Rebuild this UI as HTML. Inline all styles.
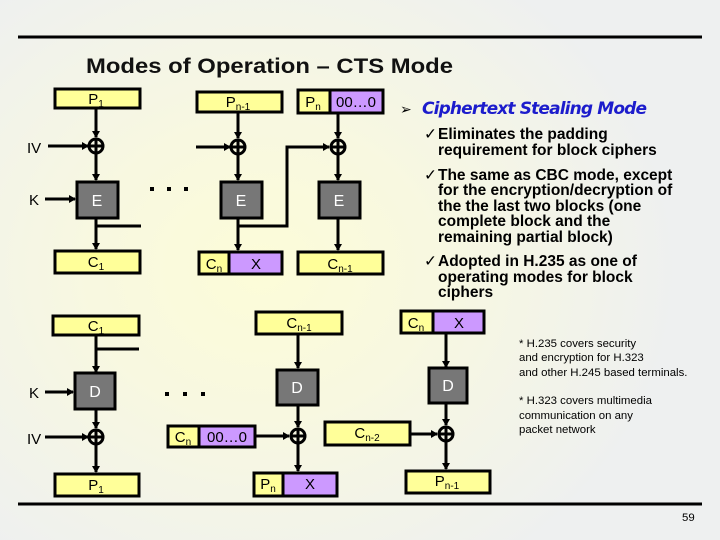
<!DOCTYPE html>
<html><head><meta charset="utf-8"><style>
html,body{margin:0;padding:0;}
body{width:720px;height:540px;overflow:hidden;background:radial-gradient(ellipse 420px 360px at 260px 270px,#fcfcd8 0%,#f8f8e0 40%,#eef0f0 100%);}
svg{display:block}
text{font-family:"Liberation Sans",Arial,sans-serif;}
</style></head><body>
<svg width="720" height="540" viewBox="0 0 720 540" xmlns="http://www.w3.org/2000/svg">
<defs>
<marker id="a" markerWidth="8" markerHeight="8" refX="6" refY="4" orient="auto" markerUnits="userSpaceOnUse"><path d="M0,0 L7,4 L0,8 z" fill="#000"/></marker>
</defs>
<line x1="18" y1="37" x2="702" y2="37" stroke="#000" stroke-width="3"/>
<line x1="18" y1="504" x2="702" y2="504" stroke="#000" stroke-width="3"/>
<text x="86" y="73" font-size="21" font-weight="bold" fill="#111" textLength="367" lengthAdjust="spacingAndGlyphs">Modes of Operation – CTS Mode</text>

<g stroke="#000" stroke-width="3" fill="none">
<line x1="96" y1="107" x2="96" y2="137" marker-end="url(#a)"/>
<line x1="96" y1="154" x2="96" y2="180" marker-end="url(#a)"/>
<line x1="48" y1="146" x2="88" y2="146" marker-end="url(#a)"/>
<line x1="45" y1="199" x2="75" y2="199" marker-end="url(#a)"/>
<line x1="96" y1="218" x2="96" y2="249" marker-end="url(#a)"/>
<line x1="96" y1="226" x2="141" y2="226"/>
<line x1="238" y1="112" x2="238" y2="138" marker-end="url(#a)"/>
<line x1="196" y1="147" x2="230" y2="147" marker-end="url(#a)"/>
<line x1="238" y1="155" x2="238" y2="180" marker-end="url(#a)"/>
<line x1="238" y1="218" x2="238" y2="250" marker-end="url(#a)"/>
<polyline points="238,226 287,226 287,147 329,147" marker-end="url(#a)"/>
<line x1="338" y1="113" x2="338" y2="138" marker-end="url(#a)"/>
<line x1="338" y1="155" x2="338" y2="180" marker-end="url(#a)"/>
<line x1="338" y1="218" x2="338" y2="250" marker-end="url(#a)"/>
<line x1="96" y1="335" x2="96" y2="372" marker-end="url(#a)"/>
<line x1="96" y1="349" x2="139" y2="349"/>
<line x1="45" y1="392" x2="73" y2="392" marker-end="url(#a)"/>
<line x1="96" y1="409" x2="96" y2="428" marker-end="url(#a)"/>
<line x1="45" y1="437" x2="88" y2="437" marker-end="url(#a)"/>
<line x1="96" y1="445" x2="96" y2="472" marker-end="url(#a)"/>
<line x1="298" y1="334" x2="298" y2="368" marker-end="url(#a)"/>
<line x1="298" y1="405" x2="298" y2="427" marker-end="url(#a)"/>
<line x1="255" y1="436" x2="289" y2="436" marker-end="url(#a)"/>
<line x1="298" y1="444" x2="298" y2="471" marker-end="url(#a)"/>
<line x1="446" y1="333" x2="446" y2="367" marker-end="url(#a)"/>
<line x1="446" y1="403" x2="446" y2="425" marker-end="url(#a)"/>
<line x1="410" y1="434" x2="437" y2="434" marker-end="url(#a)"/>
<line x1="446" y1="442" x2="446" y2="469" marker-end="url(#a)"/>
<circle cx="96" cy="146" r="7"/><line x1="89" y1="146" x2="103" y2="146"/><line x1="96" y1="139" x2="96" y2="153"/>
<circle cx="238" cy="147" r="7"/><line x1="231" y1="147" x2="245" y2="147"/><line x1="238" y1="140" x2="238" y2="154"/>
<circle cx="338" cy="147" r="7"/><line x1="331" y1="147" x2="345" y2="147"/><line x1="338" y1="140" x2="338" y2="154"/>
<circle cx="96" cy="437" r="7"/><line x1="89" y1="437" x2="103" y2="437"/><line x1="96" y1="430" x2="96" y2="444"/>
<circle cx="298" cy="436" r="7"/><line x1="291" y1="436" x2="305" y2="436"/><line x1="298" y1="429" x2="298" y2="443"/>
<circle cx="446" cy="434" r="7"/><line x1="439" y1="434" x2="453" y2="434"/><line x1="446" y1="427" x2="446" y2="441"/>
</g>

<g stroke="#000" stroke-width="3">
<rect x="55" y="89" width="85" height="19" fill="#ffff99"/>
<rect x="197" y="92" width="85" height="20" fill="#ffff99"/>
<rect x="298" y="90" width="32" height="23" fill="#ffff99"/>
<rect x="330" y="90" width="53" height="23" fill="#cc99ff"/>
<rect x="55" y="251" width="85" height="22" fill="#ffff99"/>
<rect x="199" y="252" width="30" height="22" fill="#ffff99"/>
<rect x="229" y="252" width="53" height="22" fill="#cc99ff"/>
<rect x="298" y="252" width="85" height="22" fill="#ffff99"/>
<rect x="77" y="182" width="41" height="36" fill="#777"/>
<rect x="221" y="182" width="41" height="36" fill="#777"/>
<rect x="319" y="182" width="41" height="36" fill="#777"/>
<rect x="53" y="316" width="86" height="19" fill="#ffff99"/>
<rect x="75" y="373" width="40" height="36" fill="#777"/>
<rect x="55" y="474" width="84" height="22" fill="#ffff99"/>
<rect x="256" y="312" width="86" height="22" fill="#ffff99"/>
<rect x="277" y="370" width="41" height="35" fill="#777"/>
<rect x="168" y="426" width="31" height="21" fill="#ffff99"/>
<rect x="199" y="426" width="56" height="21" fill="#cc99ff"/>
<rect x="254" y="473" width="29" height="23" fill="#ffff99"/>
<rect x="283" y="473" width="54" height="23" fill="#cc99ff"/>
<rect x="401" y="311" width="32" height="22" fill="#ffff99"/>
<rect x="433" y="311" width="51" height="22" fill="#cc99ff"/>
<rect x="429" y="368" width="38" height="35" fill="#777"/>
<rect x="325" y="422" width="85" height="23" fill="#ffff99"/>
<rect x="406" y="471" width="84" height="22" fill="#ffff99"/>
</g>

<g font-size="15" fill="#000" text-anchor="middle">
<text x="96" y="104">P<tspan font-size="10" dy="3">1</tspan></text>
<text x="238" y="107">P<tspan font-size="10" dy="3">n-1</tspan></text>
<text x="313" y="107">P<tspan font-size="10" dy="3">n</tspan></text>
<text x="356" y="107">00…0</text>
<text x="96" y="267">C<tspan font-size="10" dy="3">1</tspan></text>
<text x="214" y="269">C<tspan font-size="10" dy="3">n</tspan></text>
<text x="256" y="269">X</text>
<text x="340" y="269">C<tspan font-size="10" dy="3">n-1</tspan></text>
<text x="96" y="331">C<tspan font-size="10" dy="3">1</tspan></text>
<text x="299" y="328">C<tspan font-size="10" dy="3">n-1</tspan></text>
<text x="416" y="328">C<tspan font-size="10" dy="3">n</tspan></text>
<text x="459" y="328">X</text>
<text x="183" y="442">C<tspan font-size="10" dy="3">n</tspan></text>
<text x="227" y="442">00…0</text>
<text x="367" y="438">C<tspan font-size="10" dy="3">n-2</tspan></text>
<text x="96" y="490">P<tspan font-size="10" dy="3">1</tspan></text>
<text x="268" y="489">P<tspan font-size="10" dy="3">n</tspan></text>
<text x="310" y="489">X</text>
<text x="447" y="486">P<tspan font-size="10" dy="3">n-1</tspan></text>
</g>
<g font-size="16" fill="#fff" text-anchor="middle">
<text x="97" y="206">E</text><text x="241" y="206">E</text><text x="339" y="206">E</text>
<text x="95" y="397">D</text><text x="297" y="393">D</text><text x="448" y="391">D</text>
</g>
<g font-size="15" fill="#000">
<text x="27" y="153">IV</text><text x="29" y="205">K</text>
<text x="29" y="398">K</text><text x="27" y="444">IV</text>
</g>
<g fill="#000">
<rect x="150" y="187" width="4" height="4"/><rect x="167" y="187" width="4" height="4"/><rect x="184" y="187" width="4" height="4"/>
<rect x="165" y="392" width="4" height="4"/><rect x="183" y="392" width="4" height="4"/><rect x="201" y="392" width="4" height="4"/>
</g>

<text x="400" y="114" font-size="14" fill="#000">➢</text>
<text x="422" y="114" font-size="17" font-weight="bold" font-style="italic" fill="#1c1ccc" style="font-family:'DejaVu Sans',sans-serif" textLength="225">Ciphertext Stealing Mode</text>
<g font-size="15.5" font-weight="bold" fill="#000">
<text x="424" y="139" font-weight="normal">✓</text>
<text x="438" y="139">Eliminates the padding</text>
<text x="438" y="155">requirement for block ciphers</text>
<text x="424" y="180" font-weight="normal">✓</text>
<text x="438" y="180">The same as CBC mode, except</text>
<text x="438" y="195">for the encryption/decryption of</text>
<text x="438" y="211">the the last two blocks (one</text>
<text x="438" y="226">complete block and the</text>
<text x="438" y="242">remaining partial block)</text>
<text x="424" y="266" font-weight="normal">✓</text>
<text x="438" y="266">Adopted in H.235 as one of</text>
<text x="438" y="282">operating modes for block</text>
<text x="438" y="297">ciphers</text>
</g>
<g font-size="11.4" fill="#000">
<text x="519" y="347">* H.235 covers security</text>
<text x="519" y="361">and encryption for H.323</text>
<text x="519" y="376">and other H.245 based terminals.</text>
<text x="519" y="404">* H.323 covers multimedia</text>
<text x="519" y="419">communication on any</text>
<text x="519" y="433">packet network</text>
<text x="682" y="521">59</text>
</g>
</svg>
</body></html>
